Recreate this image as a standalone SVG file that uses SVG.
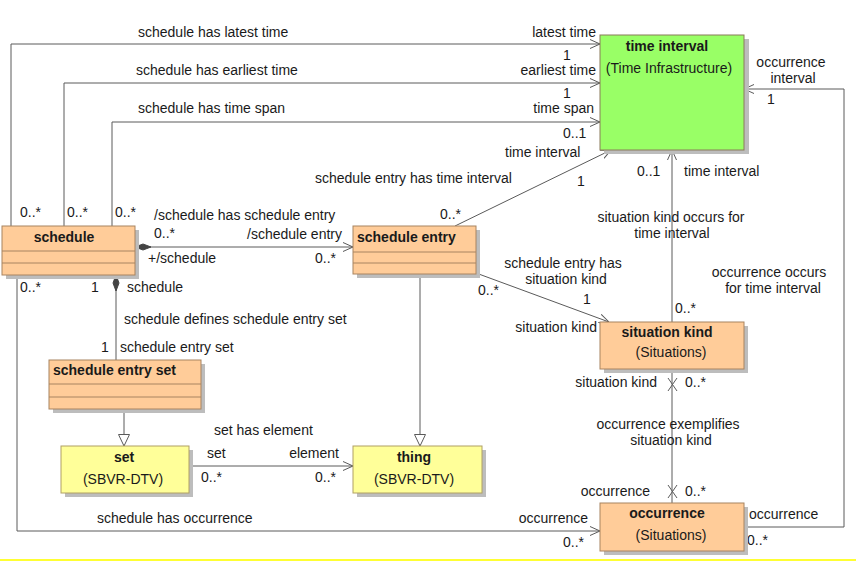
<svg xmlns="http://www.w3.org/2000/svg" width="856" height="561" viewBox="0 0 856 561">
<style>
text{font-family:"Liberation Sans",Arial,sans-serif;font-size:14px;fill:#1a1a1a}
.b{font-weight:bold}
.m{text-anchor:middle}
.e{text-anchor:end}
.sh{fill:#bdbdbd}
.or{fill:#ffcc99;stroke:#a88460;stroke-width:1}
.ye{fill:#ffff99;stroke:#b0a064;stroke-width:1}
.gr{fill:#99ff66;stroke:#8a7a5a;stroke-width:1}
.cl{stroke:#a88460;stroke-width:1}
.c{fill:none;stroke:#5a5a5a;stroke-width:1}
</style>
<defs>
<marker id="open" viewBox="0 0 10 10" refX="10" refY="5" markerWidth="10" markerHeight="10" markerUnits="userSpaceOnUse" orient="auto"><path d="M0,0.5 L10,5 L0,9.5" fill="none" stroke="#5a5a5a"/></marker>
<marker id="tri" viewBox="0 0 12 12" refX="12" refY="6" markerWidth="12" markerHeight="12" markerUnits="userSpaceOnUse" orient="auto"><path d="M0.5,0.5 L12,6 L0.5,11.5 z" fill="#fff" stroke="#5a5a5a"/></marker>
<marker id="dia" viewBox="0 0 16 8" refX="0" refY="4" markerWidth="16" markerHeight="8" markerUnits="userSpaceOnUse" orient="auto"><path d="M0,4 L8,1 L16,4 L8,7 z" fill="#444" stroke="#444"/></marker>
</defs>
<rect width="856" height="561" fill="#fff"/>
<line x1="0" y1="560" x2="856" y2="560" stroke="#ffff33" stroke-width="2"/>

<g id="connectors">
<path class="c" d="M11,226 V44 H600" marker-end="url(#open)"/>
<path class="c" d="M64,226 V83 H600" marker-end="url(#open)"/>
<path class="c" d="M112,226 V122 H600" marker-end="url(#open)"/>
<path class="c" d="M455,226 L611,150" marker-end="url(#open)"/>
<path class="c" d="M135,247 H353" marker-start="url(#dia)" marker-end="url(#open)"/>
<path class="c" d="M116,275 V360" marker-start="url(#dia)"/>
<path class="c" d="M17,275 V531 H600" marker-end="url(#open)"/>
<path class="c" d="M124,409 V446" marker-end="url(#tri)"/>
<path class="c" d="M420,274 V446" marker-end="url(#tri)"/>
<path class="c" d="M189,466 H353" marker-end="url(#open)"/>
<path class="c" d="M476,273 L609,322" marker-end="url(#open)"/>
<path class="c" d="M672,322 V150" marker-end="url(#open)"/>
<path class="c" d="M672,369 V503"/>
<path class="c" d="M668,378 L677,391 M677,378 L668,391"/>
<path class="c" d="M668,485 L677,498 M677,485 L668,498"/>
<path class="c" d="M744,527 H844 V89 H744" marker-end="url(#open)"/>

<text x="138" y="37">schedule has latest time</text>
<text x="596" y="37" class="e">latest time</text>
<text x="563" y="60">1</text>
<text x="136" y="75">schedule has earliest time</text>
<text x="596" y="75" class="e">earliest time</text>
<text x="563" y="98">1</text>
<text x="138" y="113">schedule has time span</text>
<text x="594" y="113" class="e">time span</text>
<text x="563" y="138">0..1</text>
<text x="505" y="157">time interval</text>
<text x="577" y="186">1</text>
<text x="315" y="183">schedule entry has time interval</text>
<text x="440" y="219">0..*</text>
<text x="20" y="217">0..*</text>
<text x="67" y="217">0..*</text>
<text x="115" y="217">0..*</text>
<text x="154" y="220">/schedule has schedule entry</text>
<text x="154" y="238">0..*</text>
<text x="342" y="239" class="e">/schedule entry</text>
<text x="148" y="263">+/schedule</text>
<text x="315" y="263">0..*</text>
<text x="20" y="292">0..*</text>
<text x="91" y="292">1</text>
<text x="127" y="292">schedule</text>
<text x="124" y="324">schedule defines schedule entry set</text>
<text x="101" y="352">1</text>
<text x="120" y="352">schedule entry set</text>
<text x="214" y="435">set has element</text>
<text x="207" y="458">set</text>
<text x="339" y="458" class="e">element</text>
<text x="201" y="482">0..*</text>
<text x="315" y="482">0..*</text>
<text x="97" y="523">schedule has occurrence</text>
<text x="588" y="523" class="e">occurrence</text>
<text x="563" y="547">0..*</text>
<text x="637" y="176">0..1</text>
<text x="684" y="176">time interval</text>
<text x="671" y="222" class="m">situation kind occurs for</text>
<text x="672" y="238" class="m">time interval</text>
<text x="563" y="268" class="m">schedule entry has</text>
<text x="566" y="284" class="m">situation kind</text>
<text x="478" y="295">0..*</text>
<text x="583" y="304">1</text>
<text x="597" y="332" class="e">situation kind</text>
<text x="675" y="313">0..*</text>
<text x="769" y="277" class="m">occurrence occurs</text>
<text x="773" y="293" class="m">for time interval</text>
<text x="791" y="67" class="m">occurrence</text>
<text x="793" y="83" class="m">interval</text>
<text x="767" y="104">1</text>
<text x="657" y="387" class="e">situation kind</text>
<text x="685" y="387">0..*</text>
<text x="668" y="429" class="m">occurrence exemplifies</text>
<text x="671" y="445" class="m">situation kind</text>
<text x="650" y="496" class="e">occurrence</text>
<text x="685" y="496">0..*</text>
<text x="749" y="519">occurrence</text>
<text x="747" y="545">0..*</text>
</g>

<g id="time-interval">
<rect class="sh" x="604" y="39" width="145" height="115"/>
<rect class="gr" x="600" y="35" width="144" height="115"/>
<text x="667" y="51" class="b m">time interval</text>
<text x="669" y="73" class="m">(Time Infrastructure)</text>
</g>

<g id="schedule">
<rect class="sh" x="6" y="230" width="133" height="49"/>
<rect class="or" x="2" y="226" width="133" height="49"/>
<line class="cl" x1="2" y1="251" x2="135" y2="251"/>
<line class="cl" x1="2" y1="263" x2="135" y2="263"/>
<text x="64" y="242" class="b m">schedule</text>
</g>

<g id="schedule-entry">
<rect class="sh" x="357" y="230" width="123" height="48"/>
<rect class="or" x="353" y="226" width="123" height="48"/>
<line class="cl" x1="353" y1="252" x2="476" y2="252"/>
<line class="cl" x1="353" y1="263" x2="476" y2="263"/>
<text x="357" y="242" class="b">schedule entry</text>
</g>

<g id="schedule-entry-set">
<rect class="sh" x="53" y="364" width="152" height="49"/>
<rect class="or" x="49" y="360" width="152" height="49"/>
<line class="cl" x1="49" y1="384" x2="201" y2="384"/>
<line class="cl" x1="49" y1="397" x2="201" y2="397"/>
<text x="53" y="375" class="b">schedule entry set</text>
</g>

<g id="set">
<rect class="sh" x="65" y="450" width="128" height="47"/>
<rect class="ye" x="61" y="446" width="128" height="47"/>
<text x="124" y="462" class="b m">set</text>
<text x="123" y="484" class="m">(SBVR-DTV)</text>
</g>

<g id="thing">
<rect class="sh" x="357" y="450" width="129" height="47"/>
<rect class="ye" x="353" y="446" width="129" height="47"/>
<text x="414" y="462" class="b m">thing</text>
<text x="414" y="484" class="m">(SBVR-DTV)</text>
</g>

<g id="situation-kind">
<rect class="sh" x="604" y="326" width="144" height="47"/>
<rect class="or" x="600" y="322" width="144" height="47"/>
<text x="667" y="337" class="b m">situation kind</text>
<text x="671" y="357" class="m">(Situations)</text>
</g>

<g id="occurrence">
<rect class="sh" x="604" y="507" width="144" height="48"/>
<rect class="or" x="600" y="503" width="144" height="48"/>
<text x="667" y="518" class="b m">occurrence</text>
<text x="671" y="540" class="m">(Situations)</text>
</g>
</svg>
